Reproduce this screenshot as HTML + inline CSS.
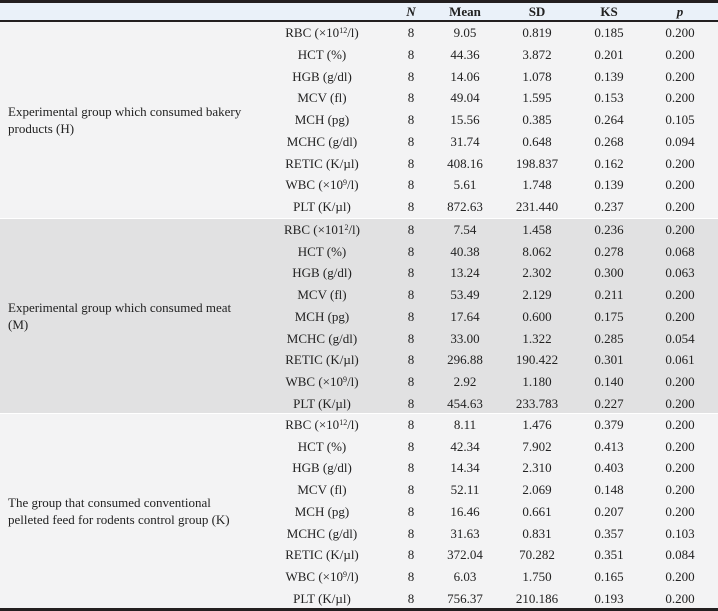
<!DOCTYPE html>
<html><head><meta charset="utf-8"><style>
body{margin:0;width:718px;height:611px;overflow:hidden;background:#fff;font-family:"Liberation Serif",serif;font-size:13px;color:#222;position:relative}
.top{position:absolute;left:0;top:0;width:718px;height:3px;background:#231f20}
.hdr{position:absolute;left:0;top:3px;width:718px;height:17px;background:#eaf1f9}
.hl{position:absolute;left:0;top:20px;width:718px;height:2px;background:#231f20}
.bot{position:absolute;left:0;top:608px;width:718px;height:3px;background:#231f20}
.g{position:absolute;left:0;width:718px}
.g1{top:22px;height:196px;background:#f3f3f4}
.g2{top:218px;height:195px;background:#e1e1e2;border-top:1px solid #fff;box-sizing:border-box}
.g3{top:413px;height:195px;background:#f3f3f4;border-top:1px solid #fff;box-sizing:border-box}
.r{position:absolute;left:0;width:718px;height:21.7px;line-height:21.7px}
.r span{position:absolute;top:0;text-align:center;white-space:nowrap}
.a{left:252px;width:140px}.b{left:391px;width:40px}.c{left:425px;width:80px}.d{left:497px;width:80px}.e{left:569px;width:80px}.f{left:640px;width:80px}
.lab{position:absolute;left:8px;width:280px;line-height:17px;white-space:nowrap}
sup{font-size:8px;vertical-align:4px;line-height:0}
.h span{font-weight:bold}
</style></head><body>
<div class="hdr"></div><div class="top"></div><div class="hl"></div>
<div class="r h" style="top:1px"><span class="b"><i>N</i></span><span class="c">Mean</span><span class="d">SD</span><span class="e">KS</span><span class="f"><i>p</i></span></div>

<div class="g g1">
<div class="lab" style="top:81px">Experimental group which consumed bakery<br>products (H)</div>
<div class="r" style="top:0px"><span class="a">RBC (×10<sup>12</sup>/l)</span><span class="b">8</span><span class="c">9.05</span><span class="d">0.819</span><span class="e">0.185</span><span class="f">0.200</span></div>
<div class="r" style="top:21.8px"><span class="a">HCT (%)</span><span class="b">8</span><span class="c">44.36</span><span class="d">3.872</span><span class="e">0.201</span><span class="f">0.200</span></div>
<div class="r" style="top:43.6px"><span class="a">HGB (g/dl)</span><span class="b">8</span><span class="c">14.06</span><span class="d">1.078</span><span class="e">0.139</span><span class="f">0.200</span></div>
<div class="r" style="top:65.3px"><span class="a">MCV (fl)</span><span class="b">8</span><span class="c">49.04</span><span class="d">1.595</span><span class="e">0.153</span><span class="f">0.200</span></div>
<div class="r" style="top:87.1px"><span class="a">MCH (pg)</span><span class="b">8</span><span class="c">15.56</span><span class="d">0.385</span><span class="e">0.264</span><span class="f">0.105</span></div>
<div class="r" style="top:108.9px"><span class="a">MCHC (g/dl)</span><span class="b">8</span><span class="c">31.74</span><span class="d">0.648</span><span class="e">0.268</span><span class="f">0.094</span></div>
<div class="r" style="top:130.7px"><span class="a">RETIC (K/µl)</span><span class="b">8</span><span class="c">408.16</span><span class="d">198.837</span><span class="e">0.162</span><span class="f">0.200</span></div>
<div class="r" style="top:152.4px"><span class="a">WBC (×10<sup>9</sup>/l)</span><span class="b">8</span><span class="c">5.61</span><span class="d">1.748</span><span class="e">0.139</span><span class="f">0.200</span></div>
<div class="r" style="top:174.2px"><span class="a">PLT (K/µl)</span><span class="b">8</span><span class="c">872.63</span><span class="d">231.440</span><span class="e">0.237</span><span class="f">0.200</span></div>
</div>

<div class="g g2">
<div class="lab" style="top:80px">Experimental group which consumed meat<br>(M)</div>
<div class="r" style="top:0px"><span class="a">RBC (×101<sup>2</sup>/l)</span><span class="b">8</span><span class="c">7.54</span><span class="d">1.458</span><span class="e">0.236</span><span class="f">0.200</span></div>
<div class="r" style="top:21.7px"><span class="a">HCT (%)</span><span class="b">8</span><span class="c">40.38</span><span class="d">8.062</span><span class="e">0.278</span><span class="f">0.068</span></div>
<div class="r" style="top:43.4px"><span class="a">HGB (g/dl)</span><span class="b">8</span><span class="c">13.24</span><span class="d">2.302</span><span class="e">0.300</span><span class="f">0.063</span></div>
<div class="r" style="top:65.1px"><span class="a">MCV (fl)</span><span class="b">8</span><span class="c">53.49</span><span class="d">2.129</span><span class="e">0.211</span><span class="f">0.200</span></div>
<div class="r" style="top:86.8px"><span class="a">MCH (pg)</span><span class="b">8</span><span class="c">17.64</span><span class="d">0.600</span><span class="e">0.175</span><span class="f">0.200</span></div>
<div class="r" style="top:108.5px"><span class="a">MCHC (g/dl)</span><span class="b">8</span><span class="c">33.00</span><span class="d">1.322</span><span class="e">0.285</span><span class="f">0.054</span></div>
<div class="r" style="top:130.2px"><span class="a">RETIC (K/µl)</span><span class="b">8</span><span class="c">296.88</span><span class="d">190.422</span><span class="e">0.301</span><span class="f">0.061</span></div>
<div class="r" style="top:151.9px"><span class="a">WBC (×10<sup>9</sup>/l)</span><span class="b">8</span><span class="c">2.92</span><span class="d">1.180</span><span class="e">0.140</span><span class="f">0.200</span></div>
<div class="r" style="top:173.6px"><span class="a">PLT (K/µl)</span><span class="b">8</span><span class="c">454.63</span><span class="d">233.783</span><span class="e">0.227</span><span class="f">0.200</span></div>
</div>

<div class="g g3">
<div class="lab" style="top:80px">The group that consumed conventional<br>pelleted feed for rodents control group (K)</div>
<div class="r" style="top:0px"><span class="a">RBC (×10<sup>12</sup>/l)</span><span class="b">8</span><span class="c">8.11</span><span class="d">1.476</span><span class="e">0.379</span><span class="f">0.200</span></div>
<div class="r" style="top:21.7px"><span class="a">HCT (%)</span><span class="b">8</span><span class="c">42.34</span><span class="d">7.902</span><span class="e">0.413</span><span class="f">0.200</span></div>
<div class="r" style="top:43.4px"><span class="a">HGB (g/dl)</span><span class="b">8</span><span class="c">14.34</span><span class="d">2.310</span><span class="e">0.403</span><span class="f">0.200</span></div>
<div class="r" style="top:65.1px"><span class="a">MCV (fl)</span><span class="b">8</span><span class="c">52.11</span><span class="d">2.069</span><span class="e">0.148</span><span class="f">0.200</span></div>
<div class="r" style="top:86.8px"><span class="a">MCH (pg)</span><span class="b">8</span><span class="c">16.46</span><span class="d">0.661</span><span class="e">0.207</span><span class="f">0.200</span></div>
<div class="r" style="top:108.5px"><span class="a">MCHC (g/dl)</span><span class="b">8</span><span class="c">31.63</span><span class="d">0.831</span><span class="e">0.357</span><span class="f">0.103</span></div>
<div class="r" style="top:130.2px"><span class="a">RETIC (K/µl)</span><span class="b">8</span><span class="c">372.04</span><span class="d">70.282</span><span class="e">0.351</span><span class="f">0.084</span></div>
<div class="r" style="top:151.9px"><span class="a">WBC (×10<sup>9</sup>/l)</span><span class="b">8</span><span class="c">6.03</span><span class="d">1.750</span><span class="e">0.165</span><span class="f">0.200</span></div>
<div class="r" style="top:173.6px"><span class="a">PLT (K/µl)</span><span class="b">8</span><span class="c">756.37</span><span class="d">210.186</span><span class="e">0.193</span><span class="f">0.200</span></div>
</div>
<div class="bot"></div>
</body></html>
